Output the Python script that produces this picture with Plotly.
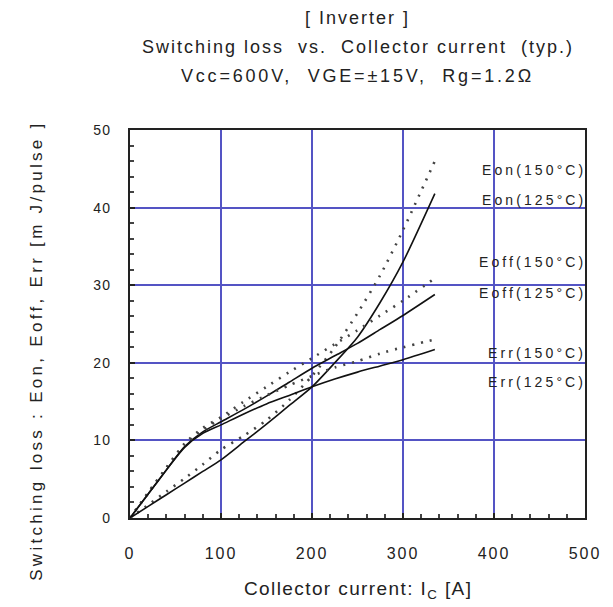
import plotly.graph_objects as go

# ---- data ----
ic = [0, 20, 40, 60, 80, 100, 125, 150, 175, 200, 225, 250, 275, 300, 335]

eon_125 = [0, 1.5, 3.0, 4.5, 6.0, 7.5, 9.8, 12.1, 14.5, 16.9, 20.0, 23.3, 27.8, 33.0, 41.8]
eon_150 = [0, 1.7, 3.4, 5.1, 6.9, 8.8, 10.6, 12.6, 15.2, 18.3, 22.0, 26.4, 31.3, 37.1, 46.0]
eoff_125 = [0, 3.1, 6.2, 9.2, 11.1, 12.4, 14.0, 15.7, 17.5, 19.3, 20.9, 22.5, 24.3, 26.1, 28.8]
eoff_150 = [0, 3.3, 6.5, 9.6, 11.6, 13.0, 15.0, 16.9, 18.8, 20.6, 22.4, 24.2, 26.1, 28.0, 30.9]
err_125 = [0, 3.1, 6.2, 9.1, 10.9, 12.0, 13.4, 14.7, 15.8, 16.9, 17.9, 18.8, 19.6, 20.4, 21.7]
err_150 = [0, 3.2, 6.4, 9.4, 11.3, 12.8, 14.4, 15.8, 17.1, 18.3, 19.4, 20.2, 21.2, 22.0, 23.0]

labels = ["Eon(150°C)", "Eon(125°C)", "Eoff(150°C)", "Eoff(125°C)", "Err(150°C)", "Err(125°C)"]
label_y = [44.8, 41.0, 33.0, 29.0, 21.3, 17.5]

x_ticks = [0, 100, 200, 300, 400, 500]
y_ticks = [0, 10, 20, 30, 40, 50]

title_lines = ["[ Inverter ]",
               "Switching loss  vs.  Collector current  (typ.)",
               "Vcc=600V,  VGE=±15V,  Rg=1.2Ω"]
x_title = "Collector current: I<sub>C</sub> [A]"
y_title = "Switching loss : Eon, Eoff, Err [m J/pulse ]"

FONT = "Liberation Sans, Arial, sans-serif"
TXT = "#222222"

# plot-area geometry in pixels
W, H = 613, 607
L, R, T, B = 130, 24, 130, 89
PW, PH = W - L - R, H - T - B


def sp(text, px):
    return '<span style="letter-spacing:%.1fpx">%s</span>' % (px, text)


def px_to_paper_x(px):
    return (px - L) / PW


def px_to_paper_y(py):
    return (H - B - py) / PH


fig = go.Figure()

series = [
    (eon_150, "Eon(150°C)", "dot"),
    (eon_125, "Eon(125°C)", "solid"),
    (eoff_150, "Eoff(150°C)", "dot"),
    (eoff_125, "Eoff(125°C)", "solid"),
    (err_150, "Err(150°C)", "dot"),
    (err_125, "Err(125°C)", "solid"),
]
for ys, name, style in series:
    if style == "solid":
        line = dict(color="#111111", width=1.6, shape="spline", smoothing=0.7)
    else:
        line = dict(color="#444444", width=2.6, dash="2px,7px", shape="spline", smoothing=0.7)
    fig.add_trace(go.Scatter(x=ic, y=ys, mode="lines", name=name, line=line,
                             showlegend=False, hoverinfo="skip"))

# curve labels
for lab, ly in zip(labels, label_y):
    fig.add_annotation(x=px_to_paper_x(592), xref="paper", y=ly, yref="y", text=sp(lab, 3.1),
                       showarrow=False, xanchor="right", yanchor="middle",
                       font=dict(family=FONT, size=14, color=TXT))

# title lines
for t, cy, ls in zip(title_lines, [18, 47, 76], [2.0, 2.0, 2.8]):
    fig.add_annotation(x=0.5, xref="paper", y=px_to_paper_y(cy), yref="paper", text=sp(t, ls),
                       showarrow=False, xanchor="center", yanchor="middle",
                       font=dict(family=FONT, size=18, color=TXT))

# axis titles
fig.add_annotation(x=px_to_paper_x(360), xref="paper", y=px_to_paper_y(590), yref="paper",
                   text=sp(x_title, 1.4), showarrow=False, xanchor="center", yanchor="middle",
                   font=dict(family=FONT, size=19, color=TXT))
fig.add_annotation(x=px_to_paper_x(35), xref="paper", y=px_to_paper_y(351), yref="paper",
                   text=sp(y_title, 3.3), textangle=-90, showarrow=False,
                   xanchor="center", yanchor="middle",
                   font=dict(family=FONT, size=17, color=TXT))

fig.update_layout(
    width=W, height=H,
    margin=dict(l=L, r=R, t=T, b=B),
    paper_bgcolor="white", plot_bgcolor="white",
    font=dict(family=FONT, size=14, color=TXT),
    xaxis=dict(
        range=[0, 500], tickvals=x_ticks, ticktext=[sp(str(v), 2.0) for v in x_ticks],
        tickfont=dict(family=FONT, size=16, color=TXT),
        showgrid=True, gridcolor="#5454c4", gridwidth=1.5,
        showline=True, linecolor="#222222", linewidth=2, mirror=True,
        ticks="inside", ticklen=5, tickcolor="#222222", tickwidth=1.5,
        minor=dict(dtick=20, ticks="inside", ticklen=4, tickcolor="#444444", showgrid=False),
        zeroline=False, ticklabelstandoff=20,
    ),
    yaxis=dict(
        range=[0, 50], tickvals=y_ticks, ticktext=[sp(str(v), 1.2) for v in y_ticks],
        tickfont=dict(family=FONT, size=14, color=TXT),
        showgrid=True, gridcolor="#5454c4", gridwidth=1.5,
        showline=True, linecolor="#222222", linewidth=2, mirror=True,
        ticks="inside", ticklen=5, tickcolor="#222222", tickwidth=1.5,
        minor=dict(dtick=2, ticks="inside", ticklen=4, tickcolor="#444444", showgrid=False),
        zeroline=False, ticklabelstandoff=14,
    ),
)

fig.write_html("out.html", config={"displayModeBar": False},
               post_script="document.body.style.margin='0px';document.body.style.padding='0px';")
